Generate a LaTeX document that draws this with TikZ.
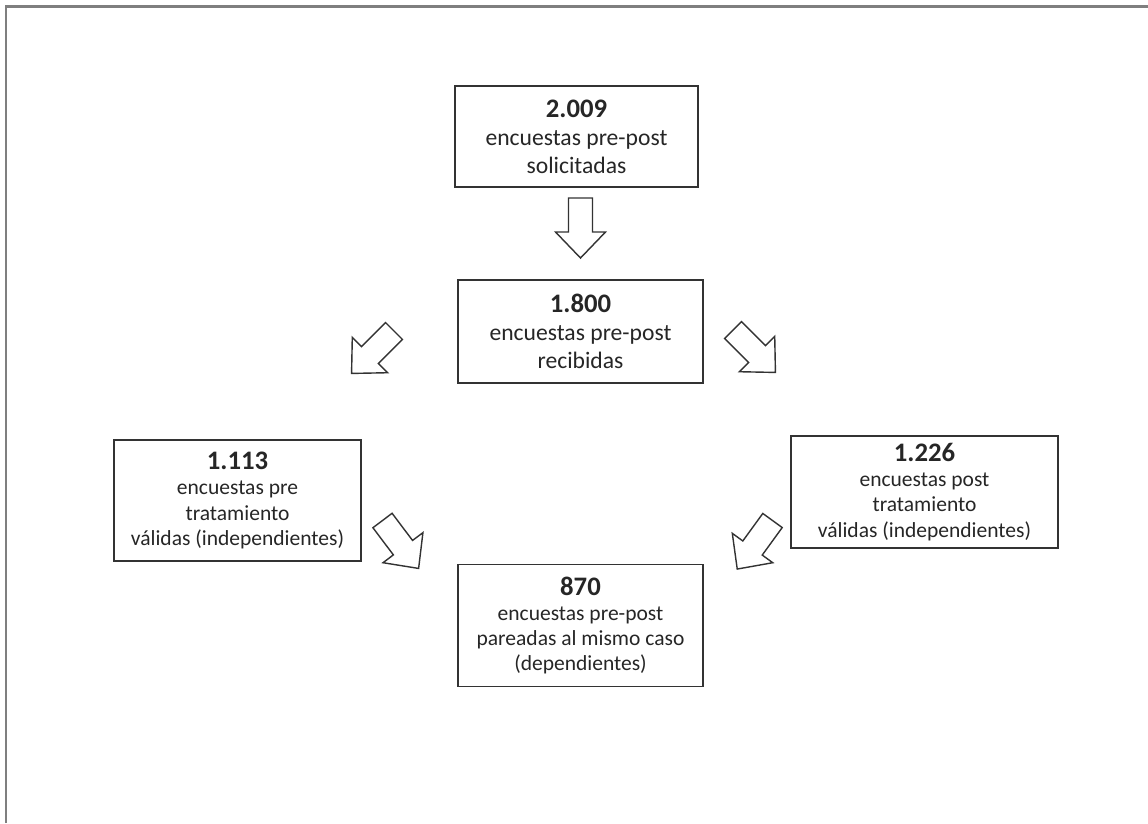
\documentclass[tikz,border=0pt]{standalone}
\usepackage{fontspec}
\setmainfont{Carlito}
\usetikzlibrary{positioning}
\usepackage{xcolor}
\definecolor{boxgray}{HTML}{333333}
\definecolor{framegray}{HTML}{7F7F7F}
\definecolor{textgray}{HTML}{262626}
\newcommand{\cifra}[1]{{\fontsize{19}{21}\selectfont\bfseries #1}}

\begin{document}
\begin{tikzpicture}[
    x=0.025cm, y=-0.025cm,
    % Estilos de bloques
    bigbox/.style={
        rectangle,
        draw=boxgray,
        line width=1.2pt,
        align=center,
        inner sep=0pt,
        text=textgray,
        font=\fontsize{16.8}{19.9}\selectfont
    },
    smallbox/.style={
        bigbox,
        font=\fontsize{15.3}{17.9}\selectfont
    },
    % Flecha de bloque (apunta hacia +x)
    blockarrow/.pic={
        \draw[boxgray, line width=1pt, line join=miter, fill=white]
            (0,-12) -- (34,-12) -- (34,-25) -- (60,0) -- (34,25) -- (34,12) -- (0,12) -- cycle;
    }
]
    \useasboundingbox (0,0) rectangle (1148,823);

    % ==========================================
    % 0. MARCO (borde superior e izquierdo)
    % ==========================================
    \draw[framegray, line width=1.8pt] (5.8,823) -- (5.8,6.5) -- (1148,6.5);

    % ==========================================
    % 1. ENCUESTAS SOLICITADAS Y RECIBIDAS
    % ==========================================
    \node[bigbox, minimum width=6.075cm, minimum height=2.525cm] (solicitadas) at (576.5,136.5) {
        \cifra{2.009}\\
        encuestas pre-post\\
        solicitadas
    };

    \node[bigbox, minimum width=6.125cm, minimum height=2.575cm, below=2.275cm of solicitadas, xshift=0.1cm] (recibidas) {
        \cifra{1.800}\\
        encuestas pre-post\\
        recibidas
    };

    % ==========================================
    % 2. ENCUESTAS VALIDAS (Izquierda y Derecha)
    % ==========================================
    \node[smallbox, minimum width=6.175cm, minimum height=3.025cm] (pre) at (237.5,500.5) {
        \cifra{1.113}\\
        encuestas pre\\
        tratamiento\\
        válidas (independientes)
    };

    \node[smallbox, minimum width=6.675cm, minimum height=2.8cm] (post) at (924.5,492) {
        \cifra{1.226}\\
        encuestas post\\
        tratamiento\\
        válidas (independientes)
    };

    % ==========================================
    % 3. ENCUESTAS PAREADAS (Abajo)
    % ==========================================
    \node[smallbox, minimum width=6.125cm, minimum height=3.05cm, below=4.5cm of recibidas] (pareadas) {
        \cifra{870}\\
        encuestas pre-post\\
        pareadas al mismo caso\\
        (dependientes)
    };

    % ==========================================
    % FLECHAS DE BLOQUE
    % ==========================================
    \pic[rotate=-90]  at (580.5,198) {blockarrow};
    \pic[rotate=-135] at (394,331)   {blockarrow};
    \pic[rotate=-45]  at (733,330)   {blockarrow};
    \pic[rotate=-53]  at (382.5,520.5) {blockarrow};
    \pic[rotate=-126] at (772.5,520.5) {blockarrow};

\end{tikzpicture}
\end{document}
